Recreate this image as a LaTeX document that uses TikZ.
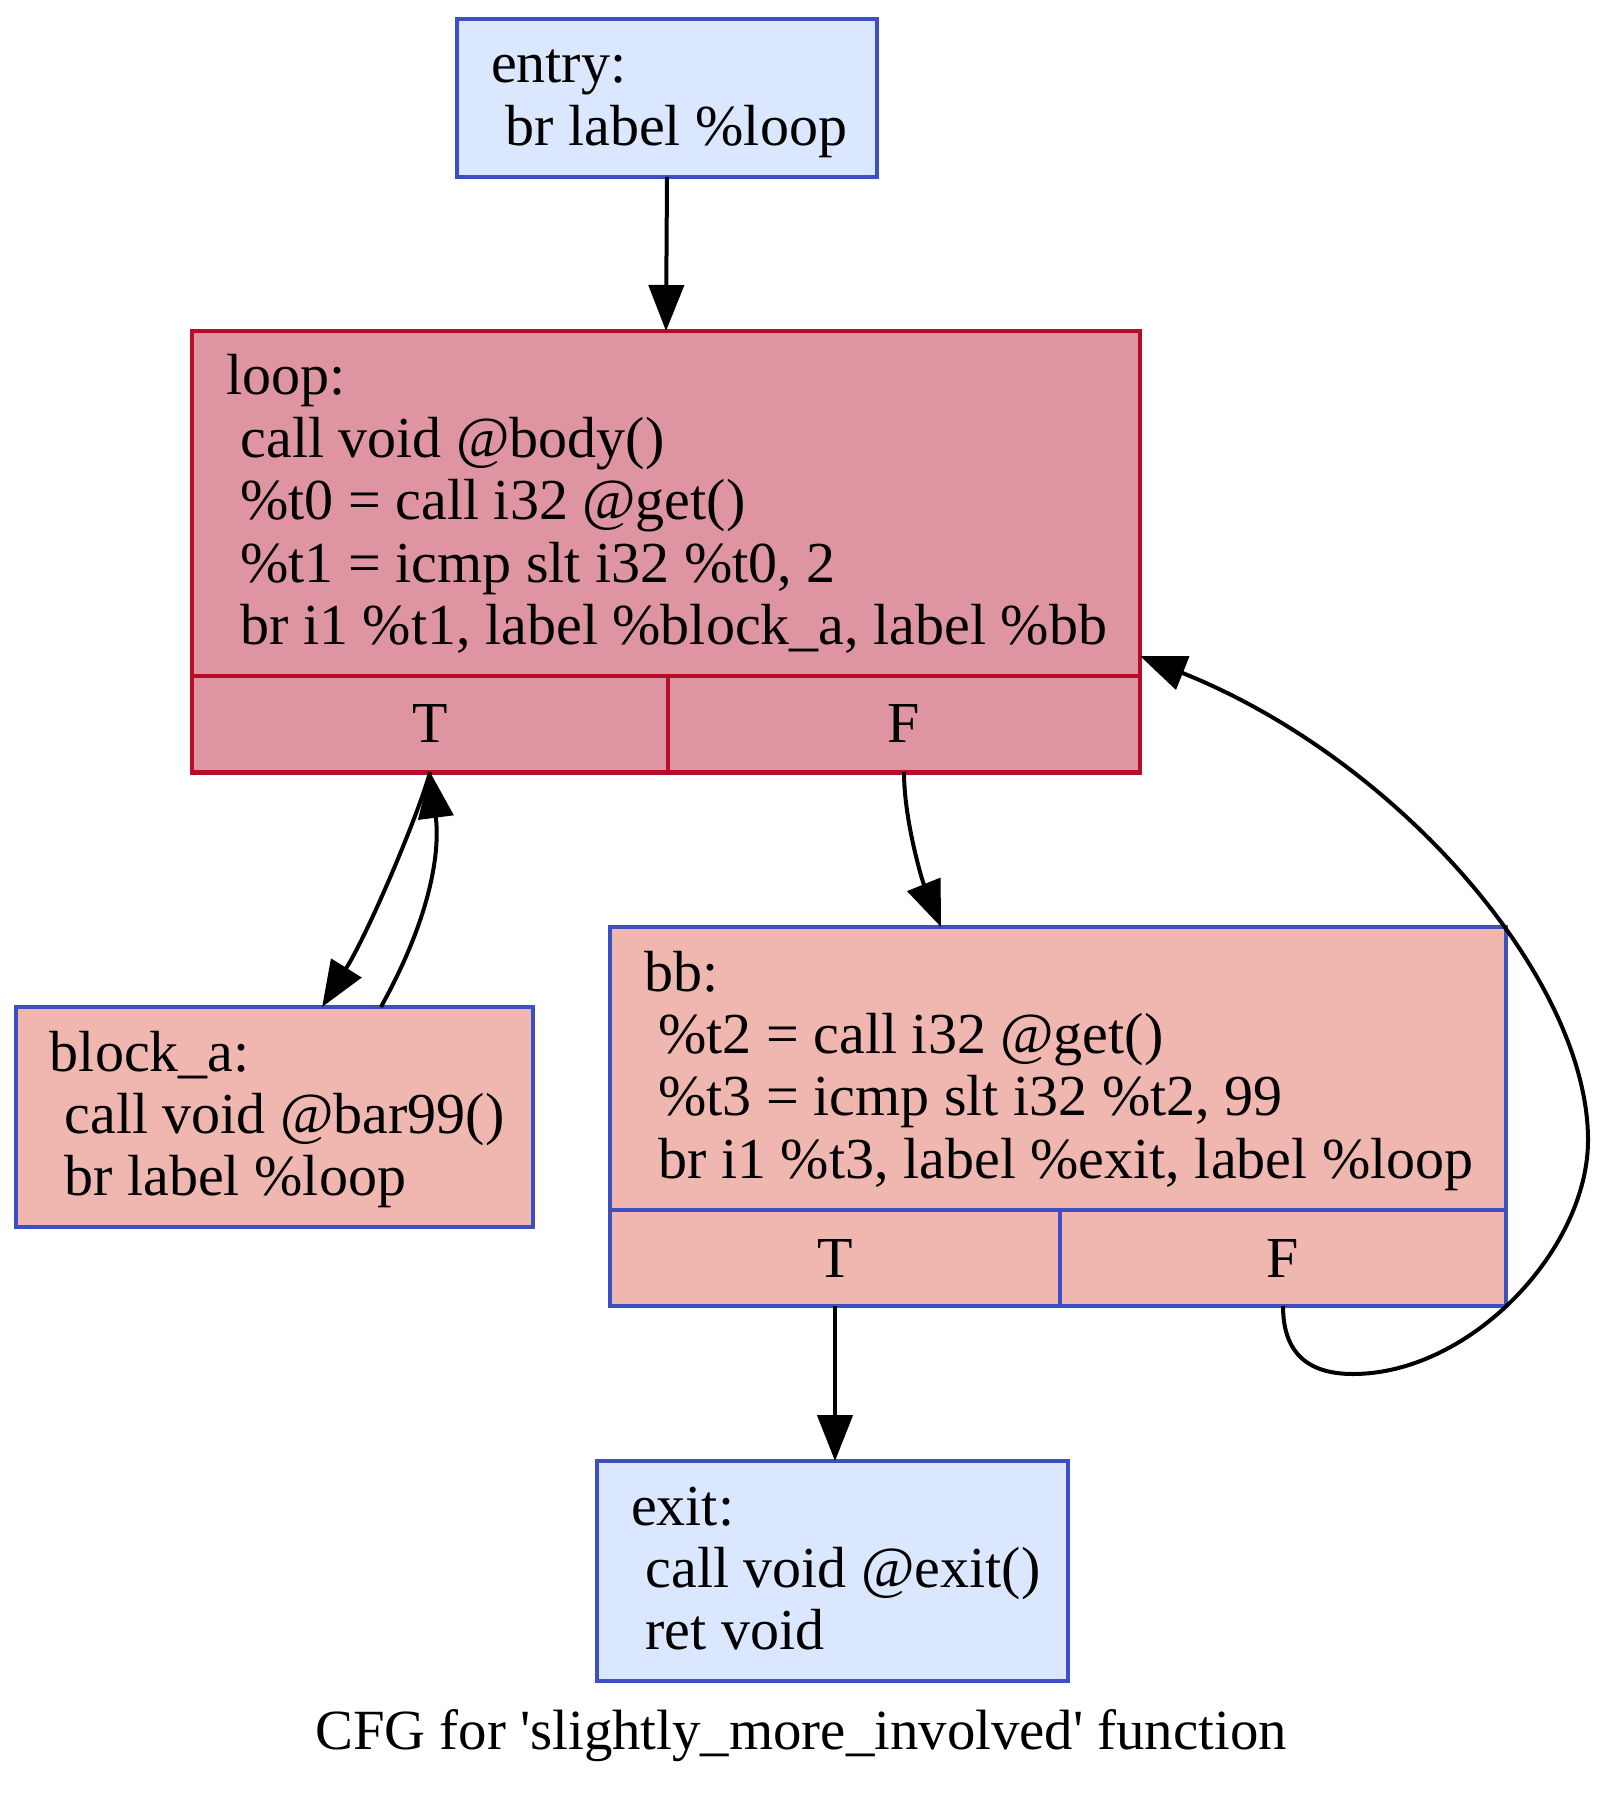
\documentclass[tikz,border=0pt]{standalone}
\usepackage{fontspec}
\setmainfont{Liberation Serif}
\usetikzlibrary{arrows.meta}
\definecolor{bluebd}{HTML}{3D50C3}
\definecolor{redbd}{HTML}{B70D28}
\definecolor{coldfill}{HTML}{DAE7FE}
\definecolor{hotfill}{HTML}{DF95A1}
\definecolor{warmfill}{HTML}{F0B7B0}
\newcommand\gvfont{\fontsize{14.5pt}{15.6pt}\selectfont}
\newcommand\capfont{\fontsize{14.2pt}{15.6pt}\selectfont}
\newcommand\blk[1]{\vtop{\baselineskip=15.6pt\lineskiplimit=-20pt #1}}
\begin{document}
\begin{tikzpicture}[x=0.25pt,y=-0.25pt,
  box/.style={draw, line width=1pt, inner sep=0pt, outer sep=0pt, rectangle, font=\gvfont},
  cold/.style={box, draw=bluebd, fill=coldfill},
  hot/.style={box, draw=redbd, fill=hotfill},
  warm/.style={box, draw=bluebd, fill=warmfill},
  txt/.style={anchor=base west, inner sep=0pt, outer sep=0pt, font=\gvfont},
  edge/.style={line width=1pt, -{Triangle[length=11.5pt,width=8.8pt]}}
]
\fill[white] (0,0) rectangle (1604,1796);
\useasboundingbox (0,0) rectangle (1604,1796);

% entry
\node[cold, minimum width=105pt, minimum height=39.5pt] (entry) at (667,98) {};
\node[txt] (entrytxt) at (491,83) {\blk{\hbox{entry:}\hbox{\ br label \%loop}}};

% loop
\node[hot, minimum width=237pt, minimum height=110.5pt] (loop) at (666,552) {};
\node[hot, minimum width=119pt, minimum height=24pt] (loopT) at (430,724) {T};
\node[hot, minimum width=118pt, minimum height=24pt] (loopF) at (904,724) {F};
\node[txt] (looptxt) at (226,395) {\blk{\hbox{loop:}\hbox{\ call void @body()}\hbox{\ \%t0 = call i32 @get()}\hbox{\ \%t1 = icmp slt i32 \%t0, 2}\hbox{\ br i1 \%t1, label \%block\_a, label \%bb}}};

% block_a
\node[warm, minimum width=129.25pt, minimum height=55pt] (blocka) at (274.5,1117) {};
\node[txt] (blockatxt) at (50,1071) {\blk{\hbox{block\_a:}\hbox{\ call void @bar99()}\hbox{\ br label \%loop}}};

% bb
\node[warm, minimum width=224pt, minimum height=94.75pt] (bb) at (1058,1116.5) {};
\node[warm, minimum width=112.5pt, minimum height=24pt] (bbT) at (835,1258) {T};
\node[warm, minimum width=111.5pt, minimum height=24pt] (bbF) at (1283,1258) {F};
\node[txt] (bbtxt) at (644,991) {\blk{\hbox{bb:}\hbox{\ \%t2 = call i32 @get()}\hbox{\ \%t3 = icmp slt i32 \%t2, 99}\hbox{\ br i1 \%t3, label \%exit, label \%loop}}};

% exit
\node[cold, minimum width=117.75pt, minimum height=55pt] (exit) at (832.5,1571) {};
\node[txt] (exittxt) at (631,1525) {\blk{\hbox{exit:}\hbox{\ call void @exit()}\hbox{\ ret void}}};

% caption
\node[anchor=base, inner sep=0pt, font=\capfont] (title) at (801,1749) {CFG for \textquotesingle slightly\_more\_involved\textquotesingle\ function};

% edges
\draw[edge] (entry.south) -- (loop.north);
\draw[edge] (loopT.south) .. controls (420,810) and (370,930) .. ([xshift=11.9pt]blocka.north);
\draw[edge] ([xshift=26.6pt]blocka.north) .. controls (432,915) and (440,850) .. (loopT.south);
\draw[edge] (loopF.south) .. controls (904,820) and (922,880) .. ([xshift=-29.25pt]bb.north);
\draw[edge] (bbT.south) -- (bbT.south |- exit.north);
\draw[edge] (bbF.south) .. controls (1283,1355) and (1310,1374) .. (1353,1374)
   .. controls (1470,1374) and (1588,1250) .. (1588,1140)
   .. controls (1588,980) and (1400,760) .. ([yshift=-26pt]loop.east);
\end{tikzpicture}
\end{document}
